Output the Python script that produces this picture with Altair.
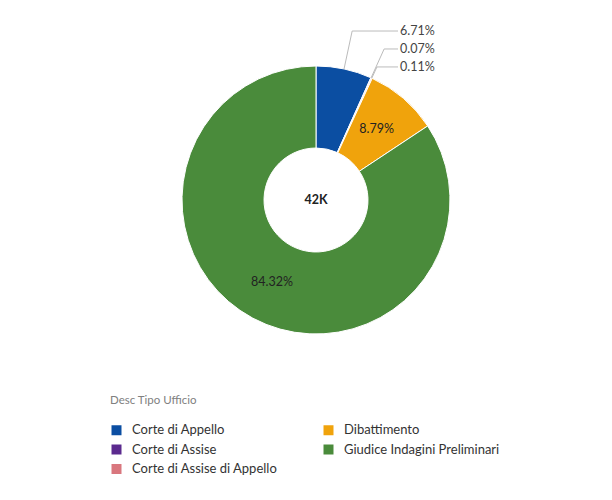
import math
import altair as alt
import pandas as pd

# ---- data ----
categories = ["Corte di Appello", "Corte di Assise", "Corte di Assise di Appello",
              "Dibattimento", "Giudice Indagini Preliminari"]
percentages = [6.71, 0.07, 0.11, 8.79, 84.32]
colors = ["#0b4ea2", "#5b2a8e", "#d9777e", "#f0a30c", "#4a8b3b"]
total_label = "42K"
legend_title = "Desc Tipo Ufficio"

FONT = "Lato"
R_OUT = 134
R_IN = 52
SIZE = 2 * R_OUT
INSIDE_MIN = 8.0          # slices at least this share get an inside label
LABEL_TOP = 1.261         # first outside label row (in radius units)
LABEL_STEP = 0.134        # row step (in radius units)
LABEL_END_X = 0.612       # leader line end (radius units)

df = pd.DataFrame({
    "cat": categories,
    "pct": percentages,
    "idx": list(range(len(categories))),
})
df["label"] = df["pct"].map(lambda v: f"{v:.2f}%")

# outside labels with leader lines, computed from the stacked angles
tot = sum(percentages)
cum = 0.0
line_rows, out_rows = [], []
row = 0
for c, p in zip(categories, percentages):
    mid = (cum + p / 2) / tot * 2 * math.pi
    cum += p
    if p >= INSIDE_MIN:
        continue
    sx, sy = math.sin(mid), math.cos(mid)
    ly = LABEL_TOP - row * LABEL_STEP
    ex = math.tan(mid) * ly
    line_rows += [
        {"cat": c, "pt": 0, "x": sx, "y": sy},
        {"cat": c, "pt": 1, "x": ex, "y": ly},
        {"cat": c, "pt": 2, "x": LABEL_END_X, "y": ly},
    ]
    out_rows.append({"cat": c, "x": LABEL_END_X + 0.015, "y": ly, "label": f"{p:.2f}%"})
    row += 1
lines_df = pd.DataFrame(line_rows)
out_df = pd.DataFrame(out_rows)
center_df = pd.DataFrame({"x": [0.0], "y": [0.0], "t": [total_label]})

xs = alt.Scale(domain=[-1, 1], nice=False, zero=False)
ys = alt.Scale(domain=[-1, 1], nice=False, zero=False)

color = alt.Color(
    "cat:N",
    scale=alt.Scale(domain=categories, range=colors),
    legend=alt.Legend(
        title=legend_title, orient="none", legendX=-72, legendY=329,
        columns=2, columnPadding=44, rowPadding=5.5,
        symbolType="square", symbolSize=100, symbolStrokeWidth=0,
        labelFont=FONT, labelFontSize=13, labelColor="#333333", labelLimit=300,
        titleFont=FONT, titleFontSize=11.5, titleFontWeight="normal",
        titleColor="#808080", titlePadding=17, labelOffset=9,
    ),
)

arcs = alt.Chart(df).mark_arc(
    outerRadius=R_OUT, innerRadius=R_IN, stroke="white", strokeWidth=1
).encode(
    theta=alt.Theta("pct:Q", stack=True),
    order=alt.Order("idx:Q"),
    color=color,
)

inner_text = alt.Chart(df).transform_calculate(
    shown=f"datum.pct >= {INSIDE_MIN} ? datum.label : ''"
).mark_text(radius=(R_OUT + R_IN) / 2, font=FONT, fontSize=12.5, color="#222222").encode(
    theta=alt.Theta("pct:Q", stack=True),
    order=alt.Order("idx:Q"),
    text="shown:N",
)

lines = alt.Chart(lines_df).mark_line(color="#bbbbbb", strokeWidth=1).encode(
    x=alt.X("x:Q", scale=xs, axis=None),
    y=alt.Y("y:Q", scale=ys, axis=None),
    detail="cat:N",
    order="pt:Q",
)

out_text = alt.Chart(out_df).mark_text(
    align="left", baseline="middle", font=FONT, fontSize=12.5, color="#444444"
).encode(
    x=alt.X("x:Q", scale=xs, axis=None),
    y=alt.Y("y:Q", scale=ys, axis=None),
    text="label:N",
)

center = alt.Chart(center_df).mark_text(
    font=FONT, fontSize=12.5, fontWeight="bold", color="#222222", baseline="middle"
).encode(
    x=alt.X("x:Q", scale=xs, axis=None),
    y=alt.Y("y:Q", scale=ys, axis=None),
    text="t:N",
)

chart = alt.layer(arcs, inner_text, lines, out_text, center).properties(
    width=SIZE, height=SIZE,
    background="white",
    autosize=alt.AutoSizeParams(type="none"),
    padding={"left": 174, "top": 58, "right": 154, "bottom": 158},
).configure_view(stroke="transparent", strokeWidth=0)

chart.save("out.html", embed_options={"renderer": "svg", "actions": False})
